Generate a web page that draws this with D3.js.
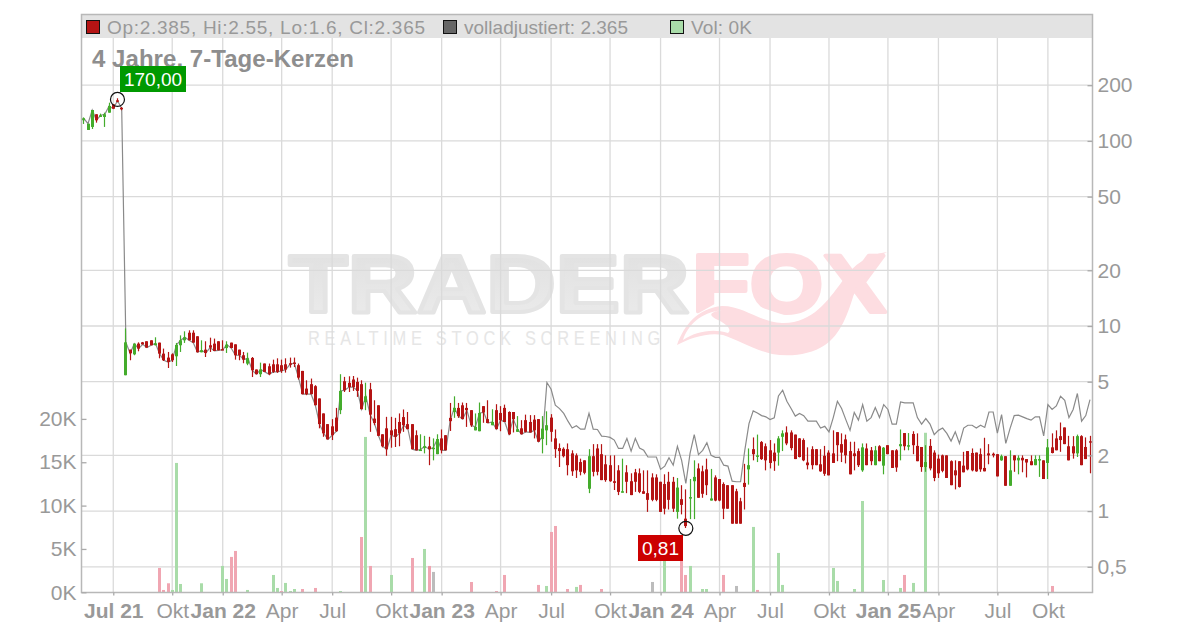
<!DOCTYPE html>
<html lang="de"><head><meta charset="utf-8"><title>Chart</title>
<script src="https://cdn.jsdelivr.net/npm/d3@7/dist/d3.min.js"></script>
<style>html,body{margin:0;padding:0;background:#fff}svg{display:block}text{font-family:"Liberation Sans",Arial,sans-serif}</style>
</head><body><svg id="c" width="1200" height="628"></svg>
<script>
const opens=[129.3,114.6,119,139.3,134.7,134.7,142.1,157.7,165.7,151,
5.42,7.45,7.03,8.03,8.16,8.27,8.37,7.87,8.13,7.09,
6.75,7.03,6.86,7.87,8.37,9.2,9.2,8.8,7.21,7.45,
7.87,8.03,8.27,7.5,7.6,8.13,7.96,7.45,6.95,6.26,
6.72,5.82,5.49,6.27,6.06,6.21,6.21,6.14,6.21,6.29,
6.35,6.14,5.72,4.59,4.85,4.73,4.06,3.37,2.95,2.87,
3.2,3.51,5.03,4.93,5.14,4.99,4.85,3.88,4.55,3.16,
3.73,2.6,2.8,2.73,2.77,3.03,3.22,2.95,2.95,2.57,
2.13,2.19,2.24,2.18,2.03,2.47,2.57,3.19,3.43,3.61,
3.73,3.61,3.51,2.73,2.7,3.69,3.14,2.91,3.51,3.39,
3.61,3.43,3.43,2.68,2.8,3.1,3.03,3.12,3.14,2.45,
2.73,3.2,2.47,2.19,2.17,2.16,2.05,2.0,1.84,1.88,
1.32,1.98,2.18,2.03,1.79,1.77,1.45,1.66,1.26,1.62,
1.45,1.62,1.6,1.28,1.25,1.52,1.52,1.44,1.4,1.44,
1.44,0.99,1.16,0.91,1.18,1.45,1.7,1.64,1.68,1.14,
1.52,1.49,1.4,1.38,1.38,1.28,1.13,1.42,1.68,2.16,
1.98,2.36,2.24,2.13,2.07,2.07,2.52,2.66,2.66,2.59,
2.47,2.42,1.83,2.16,2.16,1.79,1.99,2.07,2.05,2.67,
2.3,2.44,2.11,2.05,2.11,1.66,2.18,2.13,1.77,2.24,
1.76,2.27,2.13,2.13,2.24,2.64,2.24,2.61,2.25,2.22,
1.73,2.25,2.07,1.92,2.0,2.0,1.86,1.66,1.86,1.76,
2.11,2.06,2.07,2.03,1.71,2.05,2.04,2.03,1.88,1.98,
1.37,2.0,1.88,1.94,1.91,1.86,1.77,1.88,1.88,1.82,
2.21,2.47,2.54,2.83,2.24,2.24,2.05,2.54,2.22,2.385];
const highs=[134,123.9,146.9,139.3,140.4,142.1,160.9,157.7,170,152.5,
9.7,7.45,8.03,8.16,8.2,8.27,8.37,8.69,8.13,7.55,
7.24,7.12,8.1,8.9,9.36,9.48,9.48,8.8,8.37,8.27,
8.65,8.55,8.27,8.37,8.27,8.13,7.96,7.45,7.24,7.18,
6.8,5.82,6.34,6.27,6.27,6.58,6.69,6.58,6.69,6.75,
6.75,6.27,5.72,5.09,5.2,4.79,4.06,3.37,2.95,3.14,
3.61,5.49,5.31,5.35,5.37,5.26,5.09,4.94,4.93,3.97,
3.73,2.6,3.23,3.23,3.19,3.37,3.54,3.43,2.95,2.73,
2.6,2.55,2.52,2.47,2.6,2.76,2.57,3.84,4.17,3.84,
3.86,3.84,3.51,3.37,3.86,3.69,3.97,3.55,3.78,3.69,
3.76,3.46,3.43,3.26,3.1,3.32,3.3,3.3,3.14,3.26,
3.46,3.34,2.76,2.32,2.21,2.32,2.13,2.05,1.92,1.88,
2.16,2.3,2.3,2.3,2.0,2.0,2.0,1.77,1.92,1.77,
1.6,1.69,1.7,1.66,1.66,1.6,1.58,1.44,1.58,1.63,
1.53,1.51,1.38,1.31,1.49,1.88,1.81,1.76,1.92,1.69,
1.56,1.49,1.43,1.38,1.38,1.32,1.18,1.8,2.18,2.5,
2.59,2.39,2.32,2.42,2.32,2.54,2.73,2.87,2.73,2.59,
2.48,2.47,2.21,2.24,2.16,2.16,2.25,2.13,2.73,2.67,
2.63,2.59,2.37,2.37,2.18,2.32,2.32,2.22,2.25,2.27,
2.22,2.27,2.13,2.16,2.76,2.64,2.64,2.7,2.63,2.22,
2.27,2.45,2.13,2.02,2.02,2.0,1.88,1.88,1.86,2.09,
2.11,2.18,2.07,2.18,2.49,2.3,2.07,2.03,2.02,1.98,
2.13,2.0,2.0,2.0,1.91,2.0,2.0,2.0,1.88,2.45,
2.63,2.73,3.01,2.83,2.55,2.54,2.59,2.57,2.5,2.55];
const lows=[123.5,114.6,116,125.5,134.7,119,142.1,149.3,161.7,146.4,
5.42,6.53,6.95,7.3,7.96,7.64,7.87,7.87,6.69,6.47,
5.93,6.39,6.08,7.24,8.1,8.37,8.13,7.21,7.21,6.8,
7.24,7.33,7.39,7.45,7.15,7.6,6.58,6.53,6.29,6.14,
5.3,5.49,5.3,5.65,5.42,5.58,5.58,5.58,5.6,5.96,
6.0,5.14,4.28,4.23,4.28,3.73,2.8,2.52,2.44,2.42,
2.68,3.34,4.4,4.4,4.46,4.14,3.55,3.51,2.68,2.91,
2.54,2.21,1.99,2.2,2.22,2.24,2.68,2.77,2.16,2.13,
2.12,2.05,1.77,1.88,2.03,2.05,2.13,2.71,3.19,3.19,
3.14,2.85,2.85,2.73,2.7,3.0,2.99,2.91,2.77,2.7,
3.03,2.58,2.66,2.68,2.6,2.66,2.66,2.47,2.37,2.05,
2.27,2.37,1.94,1.73,1.95,1.56,1.55,1.51,1.56,1.58,
1.25,1.54,1.56,1.47,1.44,1.44,1.3,1.22,1.26,1.25,
1.22,1.27,1.25,1.24,0.99,1.13,1.13,0.99,0.96,1.02,
0.99,0.91,0.96,0.81,0.905,0.905,1.18,1.18,1.22,1.14,
1.13,1.13,0.905,1.03,0.855,0.855,0.855,1.02,1.39,1.88,
1.84,1.89,1.66,1.7,1.65,1.76,2.11,2.27,2.13,1.91,
1.95,1.86,1.68,1.68,1.77,1.63,1.55,1.56,1.82,1.86,
1.84,1.81,1.58,1.66,1.73,1.63,1.77,1.77,1.77,1.86,
1.58,2.03,1.71,1.63,1.88,2.13,2.13,2.03,1.86,1.63,
1.63,1.66,1.45,1.51,1.62,1.51,1.38,1.31,1.34,1.62,
1.66,1.64,1.63,1.63,1.64,1.79,1.95,1.54,1.87,1.37,
1.37,1.63,1.58,1.62,1.52,1.77,1.77,1.53,1.49,1.49,
2.05,2.13,2.09,2.3,1.88,1.92,1.96,1.77,1.91,1.6];
const closes=[132.5,123.9,146.9,129.3,137.6,139.3,154.4,149.3,165,150,
8.16,7.12,8.03,7.55,7.96,7.64,7.87,8.06,7.09,6.53,
6.39,6.53,7.9,8.37,8.69,8.37,8.13,7.21,7.39,7.15,
7.64,7.33,7.39,7.45,7.93,7.6,6.95,6.95,6.58,6.69,
5.77,5.49,5.82,5.65,5.49,5.65,5.65,5.72,5.82,6.22,
6.29,5.26,4.28,4.28,4.28,3.73,2.95,2.63,2.44,2.57,
2.7,4.46,4.5,4.68,4.68,4.46,3.55,4.17,3.32,2.99,
2.55,2.24,2.16,2.57,2.52,2.63,2.91,2.77,2.16,2.13,
2.15,2.24,2.16,2.2,2.45,2.13,2.13,3.06,3.61,3.26,
3.14,3.51,2.91,2.85,3.39,3.41,2.99,3.03,2.77,3.1,
3.03,2.6,3.14,2.77,2.6,2.68,2.66,2.73,2.37,2.79,
2.91,2.68,2.16,2.11,1.98,1.77,1.64,1.66,1.63,1.61,
1.98,1.63,1.63,1.47,1.47,1.45,1.42,1.27,1.28,1.44,
1.22,1.44,1.27,1.24,1.15,1.15,1.15,0.99,1.03,1.15,
1.03,1.34,1.08,0.83,1.19,1.53,1.18,1.24,1.38,1.17,
1.14,1.14,1.03,1.03,0.855,0.855,0.855,1.35,1.77,2.03,
2.0,1.91,1.88,1.82,1.86,2.47,2.63,2.32,2.19,1.91,
1.96,1.88,1.77,1.77,1.77,1.64,1.59,1.56,1.82,2.27,
2.07,2.0,1.58,1.98,1.77,2.21,1.77,1.86,2.13,1.86,
2.2,2.03,1.71,1.72,2.3,2.24,2.27,2.27,1.86,1.73,
1.84,1.7,1.51,1.6,1.65,1.51,1.38,1.56,1.35,1.62,
1.68,1.66,1.64,1.68,1.64,2.0,2.0,1.54,1.98,1.37,
1.66,1.88,1.94,1.88,1.83,1.77,1.91,1.91,1.49,2.21,
2.06,2.13,2.42,2.3,1.88,2.05,2.54,1.77,1.91,2.365];
const adjusted=[132.5,123.9,146.9,129.3,137.6,139.3,154.4,149.3,165,150,
8.16,7.12,8.03,7.55,7.96,7.64,7.87,8.06,7.09,6.53,
6.39,6.53,7.9,8.37,8.69,8.37,8.13,7.21,7.39,7.15,
7.64,7.33,7.39,7.45,7.93,7.6,6.95,6.95,6.58,6.69,
5.77,5.49,5.82,5.65,5.49,5.65,5.65,5.72,5.82,6.22,
6.29,5.26,4.28,4.28,4.28,3.73,2.95,2.63,2.44,2.57,
2.7,4.46,4.5,4.68,4.68,4.46,3.55,4.17,3.32,2.99,
2.55,2.24,2.16,2.57,2.52,2.63,2.91,2.77,2.16,2.13,
2.15,2.24,2.16,2.2,2.45,2.13,2.13,3.06,3.61,3.26,
3.14,3.51,2.91,2.85,3.39,3.41,2.99,3.03,2.77,3.1,
3.03,2.6,3.14,2.77,2.6,2.68,2.66,2.73,2.37,2.54,
4.95,4.55,3.73,3.58,3.37,3.06,2.81,2.89,2.77,2.77,
3.37,2.77,2.76,2.54,2.53,2.5,2.42,2.18,2.18,2.47,
2.11,2.47,2.19,2.13,1.96,1.96,1.96,1.68,1.75,1.94,
1.77,2.24,1.88,1.41,2.05,2.59,2.02,2.13,2.34,2.0,
1.95,1.95,1.77,1.75,1.45,1.44,1.44,2.13,2.97,3.48,
3.39,3.28,3.23,3.12,3.19,4.19,4.5,3.92,3.58,3.26,
3.37,3.28,3.06,3.06,3.06,2.81,2.87,2.68,3.19,3.92,
3.58,3.12,2.73,3.41,3.1,3.76,3.06,3.2,3.63,3.2,
3.76,3.54,2.95,2.95,3.89,3.84,3.84,3.84,3.2,2.95,
3.16,2.95,2.59,2.73,2.81,2.63,2.39,2.68,2.32,2.81,
2.91,2.91,2.81,2.91,2.83,3.43,3.43,2.64,3.32,2.32,
2.79,3.28,3.3,3.23,3.16,3.1,3.23,3.23,2.55,3.76,
3.54,3.7,4.17,3.97,3.2,3.54,4.32,3.06,3.28,4.0];
const volumeWeeks=[18,19,20,21,22,23,28,33,34,35,36,39,45,46,47,48,49,50,52,55,61,66,67,68,73,78,81,82,83,92,98,100,108,110,111,112,115,117,118,123,135,138,142,143,144,147,148,152,155,159,160,165,166,178,179,183,185,190,194,195,197,200,230];
const volumeValues=[2810,270,1040,270,14920,960,1040,3040,1540,4080,4770,270,2000,500,150,1080,150,380,380,500,150,6380,17920,3040,2000,3960,5000,3040,2350,1190,150,2000,850,730,6960,7650,380,620,850,380,1190,5000,3800,2000,3040,380,380,2000,730,7540,270,4540,850,2810,1310,380,10530,1420,500,2000,1080,18400,730];
const volumeTones=["d","d","d","u","u","u","u","u","u","d","d","u","u","u","d","u","u","u","d","d","u","d","u","d","u","d","u","d","f","d","d","d","d","u","d","d","d","u","d","d","f","u","d","d","u","u","u","d","f","u","d","u","u","u","u","u","u","u","u","d","u","u","d"];
const priceTicks=[200,100,50,20,10,5,2,1,0.5];
const volumeTicks=[0,5000,10000,15000,20000];
const timeWeeks=[7,21,33,47,59,73,85,99,111,125,137,151,163,177,191,203,217,229];
const timeLabels=["Jul 21","Okt","Jan 22","Apr","Jul","Okt","Jan 23","Apr","Jul","Okt","Jan 24","Apr","Jul","Okt","Jan 25","Apr","Jul","Okt"];
const legendItems=["Op:2.385, Hi:2.55, Lo:1.6, Cl:2.365","volladjustiert: 2.365","Vol: 0K"];

const RED="#b41414",GREEN="#44ac2c",GRID="#dadada",TXT="#999";
const svg=d3.select("#c");
const x=d3.scaleLinear().domain([0,239]).range([83.8,1090]);
const y=d3.scaleLog().domain([0.5,200]).range([566.8,85.2]);
const v=d3.scaleLinear().domain([0,20000]).range([592.3,418.9]);
const L=81.5,R=1092.5,T=14.5,B=592.5,HDR=38;
const px=i=>Math.round(x(i)-1.5);   // crisp left edge of a 3px-wide mark
svg.append("rect").attr("width",1200).attr("height",628).attr("fill","#fff");

// watermark
const defs=svg.append("defs");
const gr=defs.append("linearGradient").attr("id","wmg").attr("x1",0).attr("x2",0).attr("y1",0).attr("y2",1);
gr.append("stop").attr("offset","0%").attr("stop-color","#dfdfdf");
gr.append("stop").attr("offset","100%").attr("stop-color","#ececec");
const wm=svg.append("g");
wm.append("text").attr("x",289).attr("y",312).attr("font-size",82).attr("font-weight",700).attr("fill","url(#wmg)")
  .attr("stroke","#e4e4e4").attr("stroke-width",4).attr("stroke-linejoin","round")
  .attr("textLength",400).attr("lengthAdjust","spacingAndGlyphs").text("TRADER");
wm.append("text").attr("x",692).attr("y",312).attr("font-size",82).attr("font-weight",700).attr("fill","#fddde1")
  .attr("stroke","#fddde1").attr("stroke-width",4).attr("stroke-linejoin","round")
  .attr("textLength",194).attr("lengthAdjust","spacingAndGlyphs").text("FOX");
wm.append("path").attr("fill","#fff").attr("d","M686 352 L690 318 L720 301 L760 307 L790 317 L815 309 L832 285 L850 292 L835 345 L786 360 Z");
wm.append("path").attr("fill","#fddde1").attr("d","M677 345 C684 325 698 308 722 306 C745 306 758 322 782 323 C812 324 828 300 841 283 C852 266 866 255 887 252 C872 260 862 272 855 290 C848 315 840 335 825 345 C810 355 790 357 772 354 C752 349 738 340 723 335 C708 332 690 338 677 345 Z");
wm.append("path").attr("fill","#fff").attr("d","M683 340 C688 325 700 313 722 310 C712 312 706 314 718 320 C728 325 732 330 728 333 C712 328 695 332 683 340 Z");
wm.append("text").attr("x",308).attr("y",345).attr("font-size",21).attr("fill","#e6e6e6").attr("letter-spacing",6)
  .attr("textLength",357).attr("lengthAdjust","spacingAndGlyphs").text("REALTIME STOCK SCREENING");

// header band
svg.append("rect").attr("x",L).attr("y",T).attr("width",R-L).attr("height",HDR-T).attr("fill","#e3e3e3");

// grid
const grid=svg.append("g").attr("stroke",GRID).attr("stroke-width",1.3);
grid.selectAll("line.h").data(priceTicks).join("line").attr("class","h").attr("x1",L).attr("x2",R).attr("y1",d=>y(d)).attr("y2",d=>y(d));
grid.selectAll("line.v").data(timeWeeks).join("line").attr("class","v").attr("x1",d=>x(d)).attr("x2",d=>x(d)).attr("y1",HDR).attr("y2",B);

// volume
const toneFill={d:"#f0a6b2",u:"#a9dca9",f:"#bcbcbc"};
svg.append("g").selectAll("rect").data(volumeWeeks).join("rect")
  .attr("x",d=>px(d)).attr("width",3)
  .attr("y",(d,i)=>v(volumeValues[i])).attr("height",(d,i)=>v(0)-v(volumeValues[i]))
  .attr("fill",(d,i)=>toneFill[volumeTones[i]]);

// adjusted line
svg.append("path").datum(adjusted).attr("fill","none").attr("stroke","#8a8a8a").attr("stroke-width",1.2)
  .attr("d",d3.line().x((d,i)=>x(i)).y(d=>y(d)));

// candles
const weeks=d3.range(opens.length);
const col=i=>closes[i]>=opens[i]?GREEN:RED;
const cg=svg.append("g");
cg.selectAll("line").data(weeks).join("line")
  .attr("x1",i=>px(i)+1.5).attr("x2",i=>px(i)+1.5).attr("y1",i=>y(highs[i])).attr("y2",i=>y(lows[i]))
  .attr("stroke",col).attr("stroke-width",1.2);
cg.selectAll("rect").data(weeks).join("rect")
  .attr("x",i=>px(i)).attr("width",3)
  .attr("y",i=>y(Math.max(opens[i],closes[i])))
  .attr("height",i=>Math.max(1.5,Math.abs(y(opens[i])-y(closes[i]))))
  .attr("fill",col);

// frame
svg.append("path").attr("fill","none").attr("stroke","#b8b8b8").attr("stroke-width",1.5)
  .attr("d",`M${L} ${T}H${R}V${B}H${L}Z`);

// axes
function styleAxis(g){g.select(".domain").remove();g.selectAll("line").attr("stroke","#aaa").attr("stroke-width",1.3);
  g.selectAll("text").attr("fill",TXT).attr("font-size",21).attr("font-family",'"Liberation Sans",Arial,sans-serif');}
const fmtP=d=>String(d).replace(".",",");
svg.append("g").attr("transform",`translate(${R},0)`)
  .call(d3.axisLeft(y).tickValues(priceTicks).tickFormat("").tickSize(5)).call(styleAxis);
svg.append("g").attr("transform",`translate(${R-1},0)`)
  .call(d3.axisRight(y).tickValues(priceTicks).tickFormat(fmtP).tickSize(0).tickPadding(6)).call(styleAxis);
svg.append("g").attr("transform",`translate(${L},0)`)
  .call(d3.axisRight(v).tickValues(volumeTicks).tickFormat("").tickSize(5)).call(styleAxis);
svg.append("g").attr("transform",`translate(${L-1},0)`)
  .call(d3.axisLeft(v).tickValues(volumeTicks).tickFormat(d=>(d/1000)+"K").tickSize(0).tickPadding(4)).call(styleAxis);
const xa=d3.axisBottom(x).tickValues(timeWeeks).tickFormat(d=>timeLabels[timeWeeks.indexOf(d)]).tickSize(3).tickPadding(8);
svg.append("g").attr("transform",`translate(0,${B})`).call(xa).call(styleAxis)
  .selectAll("text").attr("font-weight",d=>/\d/.test(timeLabels[timeWeeks.indexOf(d)])?700:400);

// legend
const legendX=[86,443,670], swatch=["#b41414","#666","#a9dca9"], legendW=[318,164,61];
legendItems.forEach((t,i)=>{
  svg.append("rect").attr("x",legendX[i]+.5).attr("y",20.5).attr("width",13).attr("height",13)
    .attr("fill",swatch[i]).attr("stroke","#111").attr("stroke-width",1);
  svg.append("text").attr("x",legendX[i]+21).attr("y",34).attr("font-size",19).attr("fill",TXT)
    .attr("textLength",legendW[i]).text(t);
});
svg.append("text").attr("x",92).attr("y",67).attr("font-size",24).attr("font-weight",700).attr("fill","#8e8e8e")
  .attr("textLength",262).text("4 Jahre, 7-Tage-Kerzen");

// extremes
function mark(week,price,offY,color,label,rx,ry,rw,rh){
  svg.append("circle").attr("cx",x(week)).attr("cy",y(price)+offY).attr("r",7).attr("fill","none").attr("stroke","#111").attr("stroke-width",1.2);
  svg.append("rect").attr("x",rx).attr("y",ry).attr("width",rw).attr("height",rh).attr("fill",color);
  svg.append("text").attr("x",rx+rw/2).attr("y",ry+rh-6.5).attr("text-anchor","middle").attr("font-size",19).attr("fill","#fff").text(label);
}
mark(8,170,1.2,"#009900","170,00",120,66,66,26);
mark(143,0.81,0.3,"#cc0000","0,81",638,535,45,26);
</script></body></html>
